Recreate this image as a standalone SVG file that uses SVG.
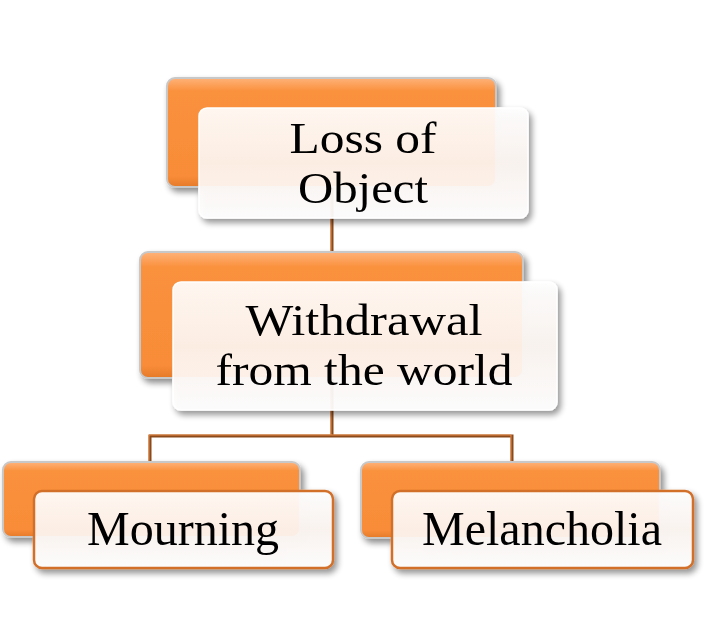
<svg xmlns="http://www.w3.org/2000/svg" width="709" height="630" viewBox="0 0 709 630">
<defs>
<linearGradient id="og" x1="0" y1="0" x2="0" y2="1">
<stop offset="0" stop-color="#FFB27A"/>
<stop offset="0.12" stop-color="#FA913D"/>
<stop offset="0.9" stop-color="#F88C38"/>
<stop offset="1" stop-color="#E57A2A"/>
</linearGradient>
<linearGradient id="wg" x1="0" y1="0" x2="0" y2="1">
<stop offset="0" stop-color="#FFFFFF"/>
<stop offset="0.5" stop-color="#FCF5F1"/>
<stop offset="1" stop-color="#FFFFFF"/>
</linearGradient>
<filter id="sh" x="-10%" y="-10%" width="125%" height="135%">
<feGaussianBlur in="SourceAlpha" stdDeviation="3"/>
<feOffset dx="3" dy="4" result="b"/>
<feComponentTransfer><feFuncA type="linear" slope="0.45"/></feComponentTransfer>
<feMerge><feMergeNode/><feMergeNode in="SourceGraphic"/></feMerge>
</filter>
</defs>
<style>
.ob{fill:url(#og);stroke:#C8C8C8;stroke-width:2}
.wb{fill:url(#wg);fill-opacity:0.92;stroke:#FFFFFF;stroke-width:1.5}
.wbo{fill:url(#wg);fill-opacity:0.93;stroke:#D2702A;stroke-width:2.5}
.t{font-family:"Liberation Serif","DejaVu Serif",serif;font-size:48px;fill:#000;text-anchor:middle}
.t2{font-size:45px}
.cn{fill:none;stroke:#8A4A1C;stroke-width:3}
.cnh{fill:none;stroke:#E98A45;stroke-width:1}
</style>
<g id="connectors">
<path class="cn" d="M332 186 V252 M332 378 V436 M150 462 V436 H512 V462"/>
<path class="cnh" d="M331 186 V252 M331 378 V435 M149 462 V435 H511 V462"/>
</g>
<g id="node-loss" filter="url(#sh)">
<rect class="ob" x="167" y="78" width="329" height="109" rx="8"/>
<rect class="wb" x="199" y="108" width="329" height="110" rx="8"/>
<text class="t t2" x="363" y="153" textLength="147" lengthAdjust="spacingAndGlyphs">Loss of</text>
<text class="t t2" x="363" y="203" textLength="130" lengthAdjust="spacingAndGlyphs">Object</text>
</g>
<g id="node-withdrawal" filter="url(#sh)">
<rect class="ob" x="140" y="252" width="383" height="126" rx="8"/>
<rect class="wb" x="173" y="282" width="384" height="128" rx="8"/>
<text class="t t2" x="364" y="335" textLength="237" lengthAdjust="spacingAndGlyphs">Withdrawal</text>
<text class="t t2" x="364" y="385" textLength="297" lengthAdjust="spacingAndGlyphs">from the world</text>
</g>
<g id="node-mourning" filter="url(#sh)">
<rect class="ob" x="3" y="462" width="297" height="75" rx="8"/>
<rect class="wbo" x="34" y="491" width="299" height="77" rx="8"/>
<text class="t" x="183" y="545">Mourning</text>
</g>
<g id="node-melancholia" filter="url(#sh)">
<rect class="ob" x="361" y="462" width="299" height="76" rx="8"/>
<rect class="wbo" x="392" y="491" width="301" height="77" rx="8"/>
<text class="t" x="542" y="545">Melancholia</text>
</g>
</svg>
